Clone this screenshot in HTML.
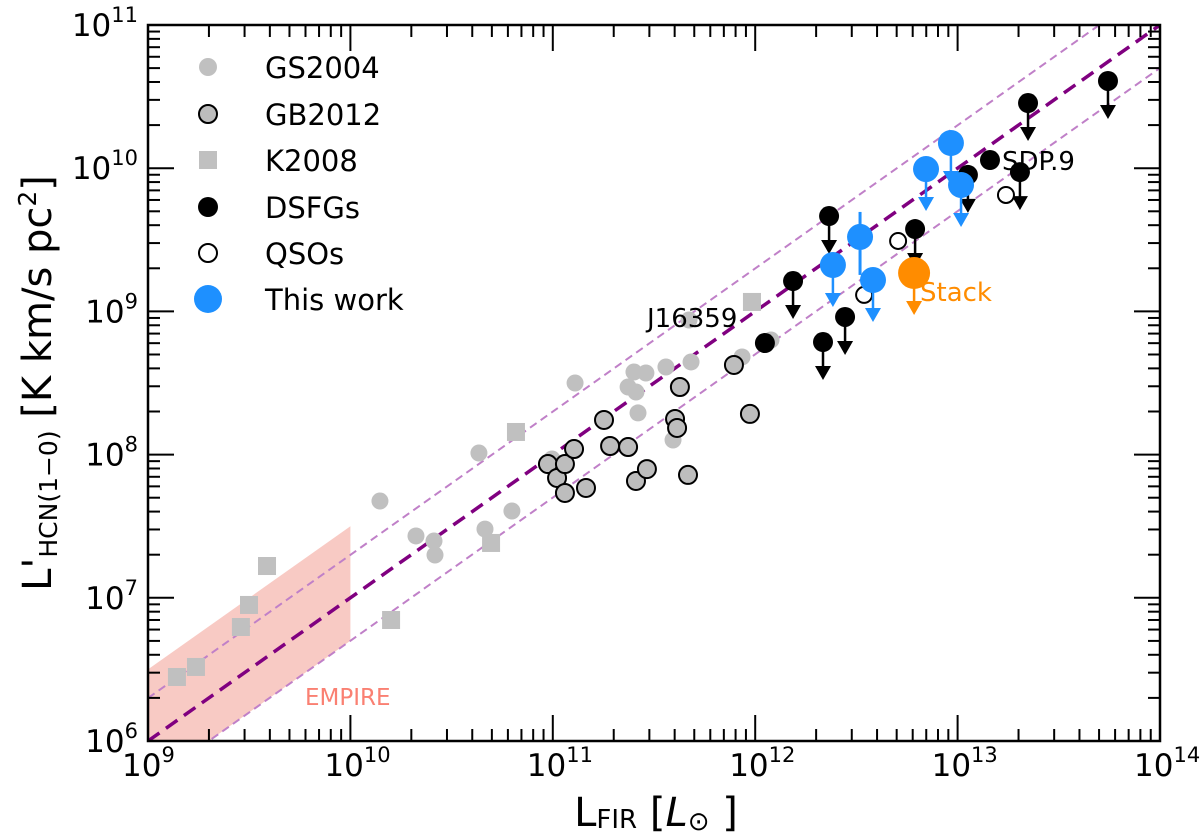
<!DOCTYPE html>
<html><head><meta charset="utf-8"><style>
body{margin:0;background:#fff;}
svg{display:block;font-family:"DejaVu Sans","Liberation Sans",sans-serif;}
</style></head><body>
<svg id="chart" width="1200" height="837" viewBox="0 0 1200 837" xmlns="http://www.w3.org/2000/svg">
<defs><clipPath id="pc"><rect x="148" y="25" width="1012" height="716"/></clipPath></defs>
<g id="plot" clip-path="url(#pc)"></g>
<g id="axes"></g>
</svg>
<script>
// data (log10 values)
const gsX=[10.146,10.324,10.413,10.418,10.635,10.665,10.798,10.996,11.110,11.372,11.401,11.411,11.421,11.460,11.559,11.594,11.609,11.683,11.673,11.935,12.078];
const gsY=[7.676,7.432,7.397,7.299,8.011,7.480,7.606,7.969,8.500,8.472,8.577,8.437,8.291,8.570,8.612,8.102,8.186,8.647,8.940,8.682,8.800];
const kX=[9.143,9.237,9.459,9.499,9.588,10.201,10.695,10.818,11.984];
const kY=[6.447,6.517,6.796,6.950,7.222,6.845,7.383,8.158,9.066];
const gbX=[10.976,11.021,11.060,11.060,11.105,11.164,11.253,11.283,11.372,11.411,11.465,11.604,11.614,11.628,11.668,11.895,11.974];
const gbY=[7.934,7.837,7.934,7.732,8.039,7.767,8.242,8.060,8.053,7.816,7.899,8.249,8.186,8.472,7.858,8.626,8.284];
const dsX=[12.048,12.187,12.335,12.365,12.444,12.790,13.051,13.160,13.308,13.348,13.743];
const dsY=[8.779,9.212,8.786,9.666,8.961,9.575,9.953,10.057,9.973,10.455,10.609];
const dsLim=[0,1,1,1,1,1,1,0,1,1,1];
const qX=[12.538,12.706,13.239];
const qY=[9.115,9.492,9.813];
const twX=[12.384,12.518,12.582,12.844,12.967,13.017];
const twY=[9.324,9.520,9.219,9.994,10.176,9.883];
const twLim=[1,0,1,1,1,1];
const stackX=[12.785], stackY=[9.268];
const xTicks=[9,10,11,12,13,14];
const yTicks=[6,7,8,9,10,11];
const NS="http://www.w3.org/2000/svg";
const X=v=>148+(v-9)*202.4, Y=v=>741-(v-6)*143.2;
const plot=document.getElementById('plot'), axes=document.getElementById('axes');
function el(t,a,p){const e=document.createElementNS(NS,t);for(const k in a)e.setAttribute(k,a[k]);(p||plot).appendChild(e);return e;}
let emp=el('polygon',{points:`${X(9)},${Y(6.5)} ${X(10)},${Y(7.5)} ${X(10)},${Y(6.7)} ${X(9)},${Y(5.7)}`,fill:'#f4a79c','fill-opacity':0.6});


[[0,'#800080',3.5,'14,8'],[0.3,'#c080c8',2,'8,5'],[-0.3,'#c080c8',2,'8,5']].forEach(([o,c,w,d])=>{
 const l=el('line',{x1:X(9),y1:Y(6+o),x2:X(14),y2:Y(11+o),stroke:c,'stroke-width':w,'stroke-dasharray':d});
 
 
});
function arrow(x,y,c,len){el('line',{x1:x,y1:y,x2:x,y2:y+len-10,stroke:c,'stroke-width':2.5});el('polygon',{points:`${x-8},${y+len-12} ${x+8},${y+len-12} ${x},${y+len+2}`,fill:c});}
gsX.forEach((v,i)=>{const c=el('circle',{cx:X(v),cy:Y(gsY[i]),r:8.5,fill:'#c0c0c0'});});
kX.forEach((v,i)=>{const c=el('rect',{x:X(v)-9,y:Y(kY[i])-9,width:18,height:18,fill:'#c0c0c0'});});
gbX.forEach((v,i)=>{const c=el('circle',{cx:X(v),cy:Y(gbY[i]),r:9,fill:'#bdbdbd',stroke:'#000','stroke-width':2});});
dsX.forEach((v,i)=>{if(dsLim[i])arrow(X(v),Y(dsY[i]),'#000',36);const c=el('circle',{cx:X(v),cy:Y(dsY[i]),r:10,fill:'#000'});});
qX.forEach((v,i)=>{const c=el('circle',{cx:X(v),cy:Y(qY[i]),r:8,fill:'#fff',stroke:'#000','stroke-width':2});});
el('line',{x1:X(twX[1]),y1:Y(twY[1])-25,x2:X(twX[1]),y2:Y(twY[1])+38,stroke:'#1e90ff','stroke-width':3});
twX.forEach((v,i)=>{if(twLim[i])arrow(X(v),Y(twY[i]),'#1e90ff',40);const c=el('circle',{cx:X(v),cy:Y(twY[i]),r:13,fill:'#1e90ff'});});
stackX.forEach((v,i)=>{arrow(X(v),Y(stackY[i]),'#ff8c00',40);const c=el('circle',{cx:X(v),cy:Y(stackY[i]),r:16,fill:'#ff8c00'});});
function txt(x,y,s,a,p){const t=el('text',Object.assign({x:x,y:y},a),p);t.textContent=s;return t;}
let t;
t=txt(647,327,'J16359',{'font-size':26});
t=txt(1002,170,'SDP.9',{'font-size':26});
t=txt(920,301,'Stack',{'font-size':26,fill:'#ff8c00'});
t=txt(305,705,'EMPIRE',{'font-size':23,fill:'#fa8072'});
const lg=[['GS2004',67],['GB2012',114],['K2008',160],['DSFGs',207],['QSOs',253],['This work',299]];
lg.forEach(([n,y],i)=>{
 const x=208;
 if(i==0)el('circle',{cx:x,cy:y,r:9,fill:'#c0c0c0'},axes);
 if(i==1)el('circle',{cx:x,cy:y,r:9,fill:'#bdbdbd',stroke:'#000','stroke-width':2},axes);
 if(i==2)el('rect',{x:x-9,y:y-9,width:18,height:18,fill:'#c0c0c0'},axes);
 if(i==3)el('circle',{cx:x,cy:y,r:10,fill:'#000'},axes);
 if(i==4)el('circle',{cx:x,cy:y,r:9,fill:'#fff',stroke:'#000','stroke-width':2},axes);
 if(i==5)el('circle',{cx:x,cy:y,r:14,fill:'#1e90ff'},axes);
 const tt=txt(265,y+11,n,{'font-size':29},axes);
 
 
});
for(let d=9;d<14;d++)for(let m=1;m<10;m++){const v=d+Math.log10(m),x=X(v),L=m==1?26:12;el('line',{x1:x,y1:741,x2:x,y2:741-L,stroke:'#000','stroke-width':2},axes);el('line',{x1:x,y1:25,x2:x,y2:25+L,stroke:'#000','stroke-width':2},axes);}
for(let d=6;d<11;d++)for(let m=1;m<10;m++){const v=d+Math.log10(m),y=Y(v),L=m==1?26:12;el('line',{x1:148,y1:y,x2:148+L,y2:y,stroke:'#000','stroke-width':2},axes);el('line',{x1:1160,y1:y,x2:1160-L,y2:y,stroke:'#000','stroke-width':2},axes);}
el('rect',{x:148,y:25,width:1012,height:716,fill:'none',stroke:'#000','stroke-width':2.5},axes);
xTicks.forEach(v=>{const g=txt(X(v)-26,776,'',{'font-size':31},axes);g.innerHTML='10<tspan dy="-14" font-size="21">'+v+'</tspan>';});
yTicks.forEach(v=>{const g=txt(138,Y(v)+11,'',{'font-size':31,'text-anchor':'end'},axes);g.innerHTML='10<tspan dy="-14" font-size="21">'+v+'</tspan>';});
t=txt(656,826,'',{'font-size':40,'text-anchor':'middle'},axes);
t.innerHTML=`L<tspan font-size="26" dy="2">FIR</tspan><tspan dy="-2"> [</tspan><tspan font-style="italic">L</tspan><tspan font-size="26" dy="4">⊙</tspan><tspan dy="-4"> ]</tspan>`;

t=txt(0,0,'',{'font-size':40,'text-anchor':'middle',transform:'translate(51,383) rotate(-90)'},axes);
t.innerHTML=`L'<tspan font-size="25" dy="6">HCN(1−0)</tspan><tspan dy="-6"> [K km/s pc</tspan><tspan font-size="25" dy="-15">2</tspan><tspan dy="15">]</tspan>`;

</script>
</body></html>
